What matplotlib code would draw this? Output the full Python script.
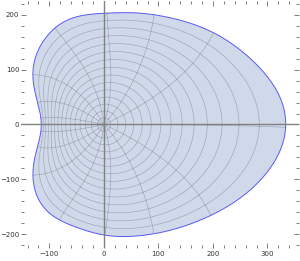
import numpy as np
import matplotlib
matplotlib.use("Agg")
import matplotlib.pyplot as plt
from matplotlib.ticker import MultipleLocator

# outline of the region (data units), counter-clockwise
edge_x = [334, 327, 299, 250, 163, 84, 40, 0, -68, -99, -121, -130, -127, -117,
          -114, -117, -127, -130, -121, -94, -50, -7, 42, 84, 145, 207, 262, 305, 328]
edge_y = [0, 45, 87, 136, 182, 200, 204, 202, 191, 167, 136, 100, 64, 27,
          0, -27, -64, -100, -136, -167, -187, -200, -204, -200, -185, -160, -124, -82, -33]

n_circles = 15   # mesh divisions in radius
n_spokes = 15    # mesh divisions in angle

x_range = (-152, 358)
y_range = (-225, 225)

# polar form of the outline, smoothed with a short Fourier series
ang = np.mod(np.arctan2(edge_y, edge_x), 2 * np.pi)
rad = np.hypot(edge_x, edge_y)
order = np.argsort(ang)
grid = np.linspace(0, 2 * np.pi, 256, endpoint=False)
logr = np.log(np.interp(grid, ang[order], rad[order], period=2 * np.pi))
b = np.fft.rfft(logr) / len(grid)
kb = np.arange(1, 13)


def rho(phi):
    return b[0].real + 2 * np.real(np.exp(1j * np.outer(phi, kb)) @ b[1:13])


# conformal map of the unit disk onto the region (Theodorsen iteration)
M = 512
theta = np.linspace(0, 2 * np.pi, M, endpoint=False)
kk = np.fft.fftfreq(M, 1.0 / M)
phi = theta.copy()
for _ in range(300):
    a = np.fft.fft(rho(phi))
    conj = np.real(np.fft.ifft(-1j * np.sign(kk) * a))
    phi = 0.5 * phi + 0.5 * (theta + conj)
a = np.fft.fft(rho(phi)) / M
coef = np.concatenate([[a[0].real], 2 * a[1:M // 2]])


def wmap(z):
    return z * np.exp(np.polyval(coef[::-1], z))


fig = plt.figure(figsize=(3.0, 2.61), dpi=100)
ax = fig.add_axes([0.07, 0.05, 0.927, 0.946])

t = np.linspace(0, 2 * np.pi, 721)
edge = wmap(np.exp(1j * t))
ax.fill(edge.real, edge.imag, color="#cfd9e9", lw=0, zorder=1)

mesh_kw = dict(color="#5f6670", alpha=0.45, lw=0.45, zorder=2)
for s in np.arange(1, n_circles) / n_circles:
    c = wmap(s * np.exp(1j * t))
    ax.plot(c.real, c.imag, **mesh_kw)
u = np.linspace(0, 1, 200)
for t0 in 2 * np.pi * np.arange(n_spokes) / n_spokes:
    c = wmap(u * np.exp(1j * t0))
    ax.plot(c.real, c.imag, **mesh_kw)

ax.plot(edge.real, edge.imag, color="#5a5af2", lw=0.7, zorder=3)

ax.axhline(0, color="#808080", lw=1.0, zorder=4)
ax.axvline(0, color="#808080", lw=1.0, zorder=4)

ax.set_xlim(*x_range)
ax.set_ylim(*y_range)
for sp in ax.spines.values():
    sp.set_visible(False)
ax.xaxis.set_major_locator(MultipleLocator(100))
ax.xaxis.set_minor_locator(MultipleLocator(20))
ax.yaxis.set_major_locator(MultipleLocator(100))
ax.yaxis.set_minor_locator(MultipleLocator(20))
ax.tick_params(which="both", direction="in", top=True, right=True,
               color="#666666", width=0.6, labelsize=5, labelcolor="#333333")
ax.tick_params(axis="x", pad=2.5)
ax.tick_params(axis="y", pad=1.2)
ax.tick_params(which="major", length=3.5)
ax.tick_params(which="minor", length=2)

fig.savefig("out.png", dpi=100)
